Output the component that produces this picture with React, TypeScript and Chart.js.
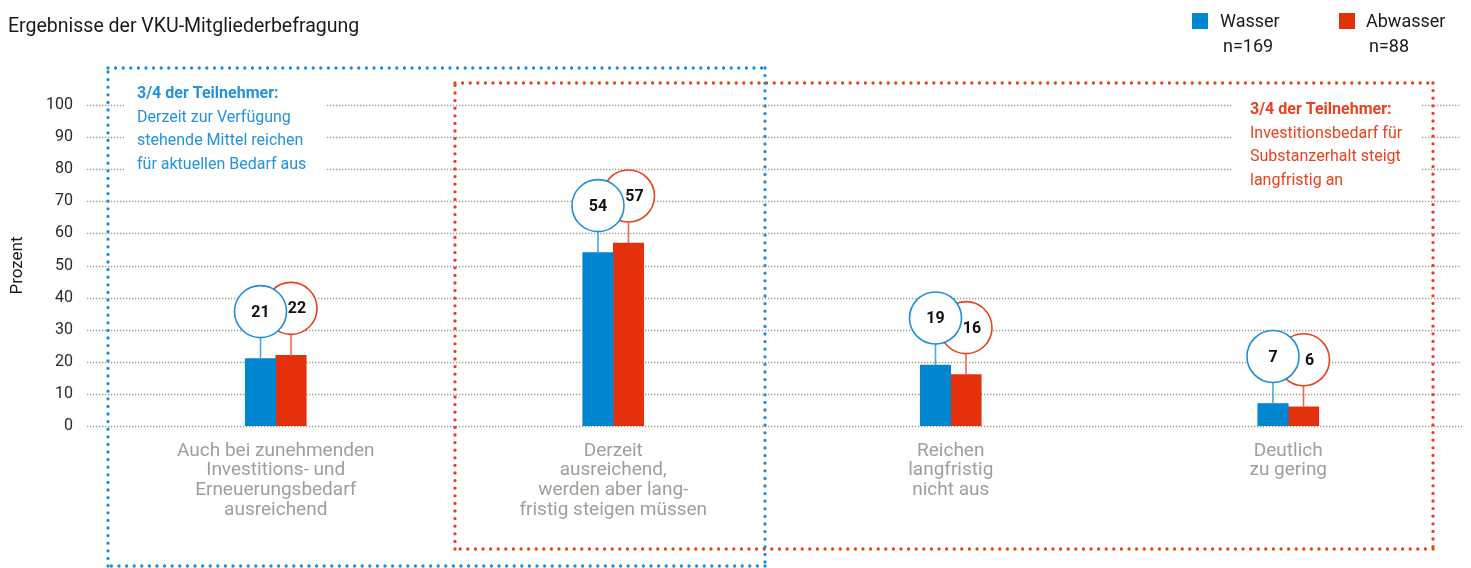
import React, { useEffect, useRef } from "react";
import { Chart, registerables } from "chart.js";

Chart.register(...registerables);

const chartTitle = "Ergebnisse der VKU-Mitgliederbefragung";
const categories: string[][] = [
  ["Auch bei zunehmenden", "Investitions- und", "Erneuerungsbedarf", "ausreichend"],
  ["Derzeit", "ausreichend,", "werden aber lang-", "fristig steigen müssen"],
  ["Reichen", "langfristig", "nicht aus"],
  ["Deutlich", "zu gering"],
];
const seriesNames = ["Wasser", "Abwasser"];
const sampleSizes = ["n=169", "n=88"];
const wasserValues = [21, 54, 19, 7];
const abwasserValues = [22, 57, 16, 6];
const yMin = 0;
const yMax = 100;
const yStep = 10;
const yAxisTitle = "Prozent";
const blueNote = ["3/4 der Teilnehmer:", "Derzeit zur Verfügung", "stehende Mittel reichen", "für aktuellen Bedarf aus"];
const redNote = ["3/4 der Teilnehmer:", "Investitionsbedarf für", "Substanzerhalt steigt", "langfristig an"];

const BLUE = "#0087cf";
const RED = "#e5310b";
const BLUE_LINE = "#1b8fd6";
const RED_LINE = "#e8401c";
const BLUE_TEXT = "#2593d8";
const RED_TEXT = "#e8421e";
const GRID = "#a19b97";
const FONT = "Roboto, 'Noto Sans', sans-serif";

function dotted(ctx: CanvasRenderingContext2D, x1: number, y1: number, x2: number, y2: number, color: string, width: number, dash: number[], cap: CanvasLineCap) {
  ctx.save();
  ctx.strokeStyle = color;
  ctx.lineWidth = width;
  ctx.lineCap = cap;
  ctx.setLineDash(dash);
  ctx.beginPath();
  ctx.moveTo(x1, y1);
  ctx.lineTo(x2, y2);
  ctx.stroke();
  ctx.restore();
}

function dottedRect(ctx: CanvasRenderingContext2D, x1: number, y1: number, x2: number, y2: number, color: string) {
  const dash = [0, 7.6];
  dotted(ctx, x1, y1, x2, y1, color, 3.3, dash, "round");
  dotted(ctx, x2, y1, x2, y2, color, 3.3, dash, "round");
  dotted(ctx, x2, y2, x1, y2, color, 3.3, dash, "round");
  dotted(ctx, x1, y2, x1, y1, color, 3.3, dash, "round");
}

const customPlugin = {
  id: "custom",
  beforeDatasetsDraw(chart: any) {
    const ctx: CanvasRenderingContext2D = chart.ctx;
    const y = chart.scales.y;
    for (let v = yMin; v <= yMax; v += yStep) {
      const py = Math.round(y.getPixelForValue(v)) + 0.5;
      dotted(ctx, 87, py, v === 0 ? 1464 : 1461, py, GRID, 1.3, [1.3, 1.7], "butt");
    }
    ctx.save();
    ctx.fillStyle = "#ffffff";
    ctx.fillRect(124, 82, 202, 96);
    ctx.fillRect(1232, 96, 189, 96);
    ctx.restore();
    ctx.save();
    ctx.textBaseline = "middle";
    ctx.textAlign = "left";
    blueNote.forEach((line, i) => {
      ctx.font = (i === 0 ? "bold " : "") + "16px " + FONT;
      ctx.fillStyle = BLUE_TEXT;
      ctx.fillText(line, 137, 94 + i * 23.7);
    });
    redNote.forEach((line, i) => {
      ctx.font = (i === 0 ? "bold " : "") + "16px " + FONT;
      ctx.fillStyle = RED_TEXT;
      ctx.fillText(line, 1250, 110 + i * 23.5);
    });
    ctx.restore();
    dottedRect(ctx, 455, 83, 1433, 549, RED_LINE);
    dottedRect(ctx, 108, 68, 765, 566, BLUE_LINE);
  },
  afterDatasetsDraw(chart: any) {
    const ctx: CanvasRenderingContext2D = chart.ctx;
    const metaW = chart.getDatasetMeta(0);
    const metaA = chart.getDatasetMeta(1);
    const r = 26;
    const drawBubble = (el: any, value: number, color: string, stick: string, dx: number) => {
      const cx = el.x;
      const top = el.y;
      const cy = top - 47;
      ctx.save();
      ctx.strokeStyle = stick;
      ctx.lineWidth = 1.6;
      ctx.beginPath();
      ctx.moveTo(cx, top);
      ctx.lineTo(cx, cy + r);
      ctx.stroke();
      ctx.beginPath();
      ctx.arc(cx, cy, r, 0, Math.PI * 2);
      ctx.fillStyle = "#ffffff";
      ctx.fill();
      ctx.strokeStyle = color;
      ctx.lineWidth = 1.6;
      ctx.stroke();
      ctx.fillStyle = "#111111";
      ctx.font = "bold 16px " + FONT;
      ctx.textAlign = "center";
      ctx.textBaseline = "middle";
      ctx.fillText(String(value), cx + dx, cy + 1);
      ctx.restore();
    };
    for (let i = 0; i < categories.length; i++) {
      drawBubble(metaA.data[i], abwasserValues[i], RED_LINE, "#ee6a4a", 6);
      drawBubble(metaW.data[i], wasserValues[i], BLUE_LINE, "#4aa7e0", 0);
    }
  },
  afterDraw(chart: any) {
    const ctx: CanvasRenderingContext2D = chart.ctx;
    ctx.save();
    ctx.textBaseline = "middle";
    ctx.textAlign = "left";
    ctx.fillStyle = "#1a1a1a";
    ctx.font = "19.5px " + FONT;
    ctx.fillText(chartTitle, 8, 27);
    const items = [
      { sq: 1192, tx: 1220, nx: 1223, color: BLUE },
      { sq: 1339, tx: 1366, nx: 1369, color: RED },
    ];
    items.forEach((it, i) => {
      ctx.fillStyle = it.color;
      ctx.fillRect(it.sq, 13, 16, 16);
      ctx.fillStyle = "#1a1a1a";
      ctx.font = "18px " + FONT;
      ctx.fillText(seriesNames[i], it.tx, 22);
      ctx.fillText(sampleSizes[i], it.nx, 47);
    });
    ctx.restore();
  },
};

export default function App() {
  const ref = useRef<HTMLCanvasElement | null>(null);
  useEffect(() => {
    if (!ref.current) return;
    const chart = new Chart(ref.current, {
      type: "bar",
      data: {
        labels: categories,
        datasets: [
          { label: seriesNames[0], data: wasserValues, backgroundColor: BLUE, barThickness: 30.5 },
          { label: seriesNames[1], data: abwasserValues, backgroundColor: RED, barThickness: 30.5 },
        ],
      },
      options: {
        animation: false,
        responsive: true,
        maintainAspectRatio: false,
        layout: { padding: { top: 105, right: 14, left: 0, bottom: 0 } },
        plugins: {
          legend: { display: false },
          title: { display: false },
          tooltip: { enabled: false },
        },
        scales: {
          x: {
            grid: { display: false, drawTicks: false },
            border: { display: false },
            ticks: {
              color: "#a39d99",
              font: { family: FONT, size: 19, lineHeight: 1.04 },
              padding: 15,
              maxRotation: 0,
              autoSkip: false,
            },
            afterFit: (scale: any) => {
              scale.height = 142;
            },
          },
          y: {
            min: yMin,
            max: yMax,
            grid: { display: false, drawTicks: false },
            border: { display: false },
            ticks: {
              stepSize: yStep,
              color: "#2a2a2a",
              font: { family: FONT, size: 16 },
              padding: 34,
            },
            title: {
              display: true,
              text: yAxisTitle,
              color: "#1a1a1a",
              font: { family: FONT, size: 17 },
              padding: { top: 8, bottom: 0 },
            },
            afterFit: (scale: any) => {
              scale.width = 107;
            },
          },
        },
      },
      plugins: [customPlugin],
    });
    return () => chart.destroy();
  }, []);
  return (
    <div style={{ position: "absolute", left: 0, top: 0, width: 1471, height: 568, background: "#fff" }}>
      <canvas ref={ref} />
    </div>
  );
}
